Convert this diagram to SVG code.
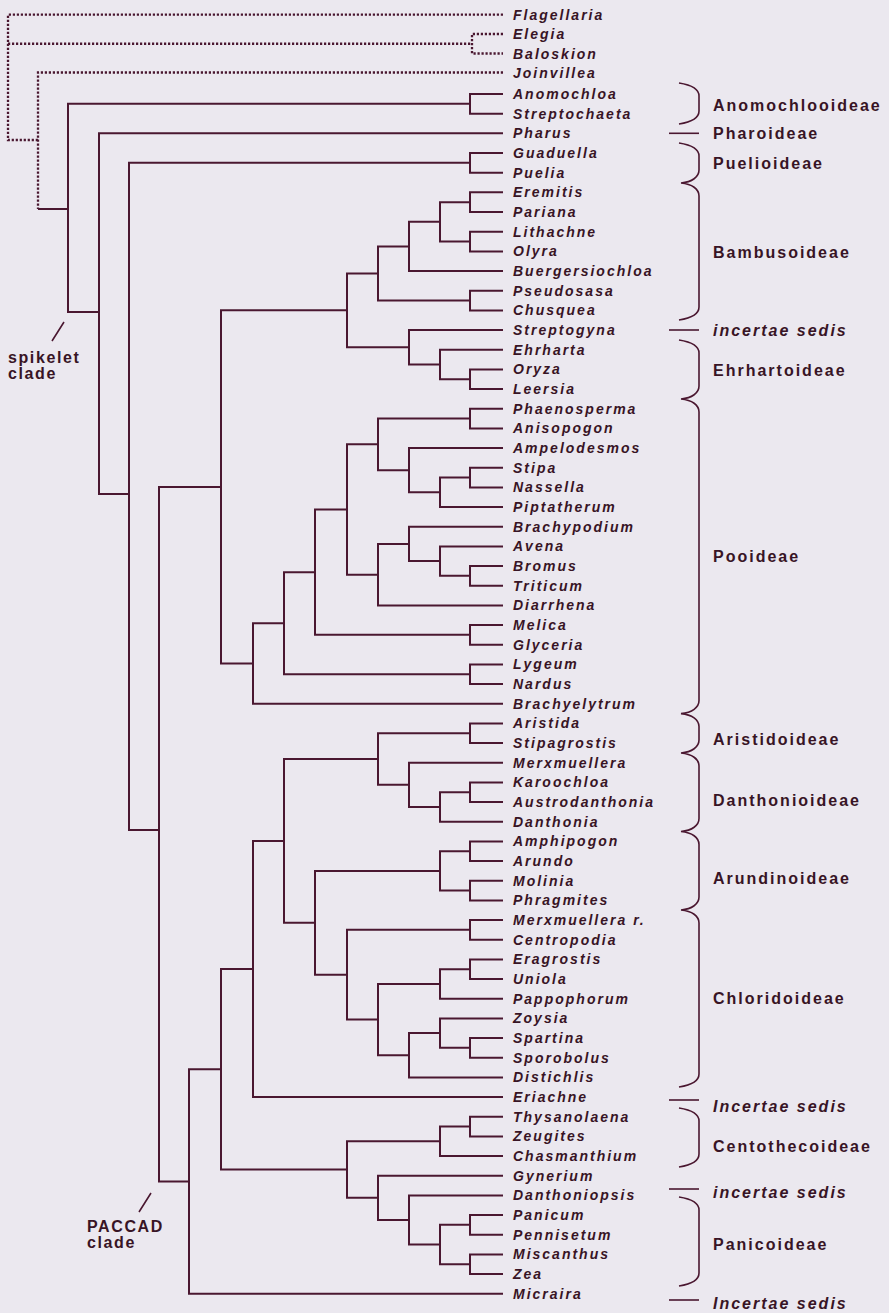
<svg xmlns="http://www.w3.org/2000/svg" width="889" height="1313" viewBox="0 0 889 1313">
<style>
.bg{fill:#ebe8ef}
.br{fill:none;stroke:#4a1730;stroke-width:2}
.dot{fill:none;stroke:#4a1730;stroke-width:2.3;stroke-dasharray:2.2 1.8}
.bc{fill:none;stroke:#4a1730;stroke-width:1.6}
.tx{font-family:"Liberation Sans",Arial,sans-serif;font-size:14px;font-weight:bold;font-style:italic;letter-spacing:2px;fill:#381425}
.gp{font-family:"Liberation Sans",Arial,sans-serif;font-size:16px;font-weight:bold;letter-spacing:2px;fill:#381425}
.it{font-style:italic}
.cl{font-family:"Liberation Sans",Arial,sans-serif;font-size:16px;font-weight:bold;letter-spacing:1.6px;fill:#381425}
</style>
<rect class="bg" x="0" y="0" width="889" height="1313"/>
<g id="connectors">
<path class="dot" d="M503,14.7 H8 V140 H38 M8,43.75 H472 M503,34 H472 V53.5 H503 M503,72.5 H38 V209"/>
<path class="br" d="M38,209 H68
M470,103.85 H68 V312 H99
M503,133.3 H99 V494 H129
M470,162.85 H129 V830 H159
M221,486.9 H159 V1181.5 H189
M221,1069.25 H189 V1293.7 H503
M347,310.35 H221 V663.45 H253
M253,968.95 H221 V1169.55 H347
M284,623.2 H253 V703.7 H503
M284,840.9 H253 V1097 H503
M315,572.2 H284 V674.2 H470
M378,759 H284 V922.8 H315
M347,509.5 H315 V634.85 H470
M440,870.9 H315 V974.7 H347
M378,273.5 H347 V347.2 H409
M378,444.35 H347 V574.65 H378
M470,929.85 H347 V1019.6 H378
M440,1141.3 H347 V1197.8 H378
M409,246.4 H378 V300.55 H470
M470,418.55 H378 V470.15 H409
M409,543.9 H378 V605.4 H503
M470,733.2 H378 V784.8 H409
M440,983.95 H378 V1055.25 H409
M503,1175.7 H378 V1219.95 H409
M440,221.85 H409 V271 H503
M503,330 H409 V364.45 H440
M503,448 H409 V492.3 H440
M503,526.7 H409 V561.1 H440
M503,762.7 H409 V806.95 H440
M440,1033.1 H409 V1077.4 H503
M503,1195.4 H409 V1244.5 H440
M470,202.15 H440 V241.55 H470
M503,349.7 H440 V379.2 H470
M470,477.55 H440 V507 H503
M503,546.4 H440 V575.85 H470
M470,792.2 H440 V821.7 H503
M470,851.2 H440 V890.55 H470
M470,969.2 H440 V998.7 H503
M503,1018.4 H440 V1047.85 H470
M470,1126.55 H440 V1156 H503
M470,1224.85 H440 V1264.2 H470
M503,94 H470 V113.7 H503
M503,153 H470 V172.7 H503
M503,192.3 H470 V212 H503
M503,231.7 H470 V251.4 H503
M503,290.7 H470 V310.4 H503
M503,369.4 H470 V389 H503
M503,408.7 H470 V428.4 H503
M503,467.7 H470 V487.4 H503
M503,566 H470 V585.7 H503
M503,625 H470 V644.7 H503
M503,664.4 H470 V684 H503
M503,723.4 H470 V743 H503
M503,782.4 H470 V802 H503
M503,841.4 H470 V861 H503
M503,880.7 H470 V900.4 H503
M503,920 H470 V939.7 H503
M503,959.4 H470 V979 H503
M503,1038 H470 V1057.7 H503
M503,1116.7 H470 V1136.4 H503
M503,1215 H470 V1234.7 H503
M503,1254.4 H470 V1274 H503"/>
<path class="bc" d="M52,341 L64,322 M139,1212 L151,1193"/>
</g>
<g id="braces">
<path class="bc" d="M679,83 C692,85 699,89 699,96 L699,111 C699,118 692,122 679,124"/>
<path class="bc" d="M669,133.3 H699"/>
<path class="bc" d="M679,143 C692,145 699,149 699,156 L699,170 C699,177 692,182 681,183 C692,184 699,189 699,196 L699,307 C699,314 692,318 679,320"/>
<path class="bc" d="M669,330 H699"/>
<path class="bc" d="M679,340 C692,342 699,346 699,353 L699,386 C699,393 692,398 681,399 C692,400 699,405 699,412 L699,700.6 C699,707.6 692,712.6 681,713.6 C692,714.6 699,719.6 699,726.6 L699,740 C699,747 692,752 681,753 C692,754 699,759 699,766 L699,818.5 C699,825.5 692,830.5 681,831.5 C692,832.5 699,837.5 699,844.5 L699,897 C699,904 692,909 681,910 C692,911 699,916 699,923 L699,1074 C699,1081 692,1085 679,1087"/>
<path class="bc" d="M669,1100 H699"/>
<path class="bc" d="M679,1108 C692,1110 699,1114 699,1121 L699,1154 C699,1161 692,1165 679,1167"/>
<path class="bc" d="M669,1189 H699"/>
<path class="bc" d="M679,1197 C692,1199 699,1203 699,1210 L699,1273 C699,1280 692,1284 679,1286"/>
<path class="bc" d="M669,1300 H699"/>
</g>
<g id="taxa" class="tx">
<g id="n-flagellaria"><text x="513" y="19.7">Flagellaria</text></g>
<g id="n-elegia"><text x="513" y="39">Elegia</text></g>
<g id="n-baloskion"><text x="513" y="58.5">Baloskion</text></g>
<g id="n-joinvillea"><text x="513" y="77.5">Joinvillea</text></g>
<g id="n-anomochloa"><text x="513" y="99">Anomochloa</text></g>
<g id="n-streptochaeta"><text x="513" y="118.7">Streptochaeta</text></g>
<g id="n-pharus"><text x="513" y="138.3">Pharus</text></g>
<g id="n-guaduella"><text x="513" y="158">Guaduella</text></g>
<g id="n-puelia"><text x="513" y="177.7">Puelia</text></g>
<g id="n-eremitis"><text x="513" y="197.3">Eremitis</text></g>
<g id="n-pariana"><text x="513" y="217">Pariana</text></g>
<g id="n-lithachne"><text x="513" y="236.7">Lithachne</text></g>
<g id="n-olyra"><text x="513" y="256.4">Olyra</text></g>
<g id="n-buergersiochloa"><text x="513" y="276">Buergersiochloa</text></g>
<g id="n-pseudosasa"><text x="513" y="295.7">Pseudosasa</text></g>
<g id="n-chusquea"><text x="513" y="315.4">Chusquea</text></g>
<g id="n-streptogyna"><text x="513" y="335">Streptogyna</text></g>
<g id="n-ehrharta"><text x="513" y="354.7">Ehrharta</text></g>
<g id="n-oryza"><text x="513" y="374.4">Oryza</text></g>
<g id="n-leersia"><text x="513" y="394">Leersia</text></g>
<g id="n-phaenosperma"><text x="513" y="413.7">Phaenosperma</text></g>
<g id="n-anisopogon"><text x="513" y="433.4">Anisopogon</text></g>
<g id="n-ampelodesmos"><text x="513" y="453">Ampelodesmos</text></g>
<g id="n-stipa"><text x="513" y="472.7">Stipa</text></g>
<g id="n-nassella"><text x="513" y="492.4">Nassella</text></g>
<g id="n-piptatherum"><text x="513" y="512">Piptatherum</text></g>
<g id="n-brachypodium"><text x="513" y="531.7">Brachypodium</text></g>
<g id="n-avena"><text x="513" y="551.4">Avena</text></g>
<g id="n-bromus"><text x="513" y="571">Bromus</text></g>
<g id="n-triticum"><text x="513" y="590.7">Triticum</text></g>
<g id="n-diarrhena"><text x="513" y="610.4">Diarrhena</text></g>
<g id="n-melica"><text x="513" y="630">Melica</text></g>
<g id="n-glyceria"><text x="513" y="649.7">Glyceria</text></g>
<g id="n-lygeum"><text x="513" y="669.4">Lygeum</text></g>
<g id="n-nardus"><text x="513" y="689">Nardus</text></g>
<g id="n-brachyelytrum"><text x="513" y="708.7">Brachyelytrum</text></g>
<g id="n-aristida"><text x="513" y="728.4">Aristida</text></g>
<g id="n-stipagrostis"><text x="513" y="748">Stipagrostis</text></g>
<g id="n-merxmuellera"><text x="513" y="767.7">Merxmuellera</text></g>
<g id="n-karoochloa"><text x="513" y="787.4">Karoochloa</text></g>
<g id="n-austrodanthonia"><text x="513" y="807">Austrodanthonia</text></g>
<g id="n-danthonia"><text x="513" y="826.7">Danthonia</text></g>
<g id="n-amphipogon"><text x="513" y="846.4">Amphipogon</text></g>
<g id="n-arundo"><text x="513" y="866">Arundo</text></g>
<g id="n-molinia"><text x="513" y="885.7">Molinia</text></g>
<g id="n-phragmites"><text x="513" y="905.4">Phragmites</text></g>
<g id="n-merxmuellera-r"><text x="513" y="925">Merxmuellera r.</text></g>
<g id="n-centropodia"><text x="513" y="944.7">Centropodia</text></g>
<g id="n-eragrostis"><text x="513" y="964.4">Eragrostis</text></g>
<g id="n-uniola"><text x="513" y="984">Uniola</text></g>
<g id="n-pappophorum"><text x="513" y="1003.7">Pappophorum</text></g>
<g id="n-zoysia"><text x="513" y="1023.4">Zoysia</text></g>
<g id="n-spartina"><text x="513" y="1043">Spartina</text></g>
<g id="n-sporobolus"><text x="513" y="1062.7">Sporobolus</text></g>
<g id="n-distichlis"><text x="513" y="1082.4">Distichlis</text></g>
<g id="n-eriachne"><text x="513" y="1102">Eriachne</text></g>
<g id="n-thysanolaena"><text x="513" y="1121.7">Thysanolaena</text></g>
<g id="n-zeugites"><text x="513" y="1141.4">Zeugites</text></g>
<g id="n-chasmanthium"><text x="513" y="1161">Chasmanthium</text></g>
<g id="n-gynerium"><text x="513" y="1180.7">Gynerium</text></g>
<g id="n-danthoniopsis"><text x="513" y="1200.4">Danthoniopsis</text></g>
<g id="n-panicum"><text x="513" y="1220">Panicum</text></g>
<g id="n-pennisetum"><text x="513" y="1239.7">Pennisetum</text></g>
<g id="n-miscanthus"><text x="513" y="1259.4">Miscanthus</text></g>
<g id="n-zea"><text x="513" y="1279">Zea</text></g>
<g id="n-micraira"><text x="513" y="1298.7">Micraira</text></g>
</g>
<g id="groups" class="gp">
<g id="g-anomochlooideae"><text x="713" y="111">Anomochlooideae</text></g>
<g id="g-pharoideae"><text x="713" y="139">Pharoideae</text></g>
<g id="g-puelioideae"><text x="713" y="169">Puelioideae</text></g>
<g id="g-bambusoideae"><text x="713" y="258">Bambusoideae</text></g>
<g id="g-is1"><text class="it" x="713" y="336">incertae sedis</text></g>
<g id="g-ehrhartoideae"><text x="713" y="376">Ehrhartoideae</text></g>
<g id="g-pooideae"><text x="713" y="562">Pooideae</text></g>
<g id="g-aristidoideae"><text x="713" y="745">Aristidoideae</text></g>
<g id="g-danthonioideae"><text x="713" y="806">Danthonioideae</text></g>
<g id="g-arundinoideae"><text x="713" y="884">Arundinoideae</text></g>
<g id="g-chloridoideae"><text x="713" y="1004">Chloridoideae</text></g>
<g id="g-is2"><text class="it" x="713" y="1112">Incertae sedis</text></g>
<g id="g-centothecoideae"><text x="713" y="1152">Centothecoideae</text></g>
<g id="g-is3"><text class="it" x="713" y="1198">incertae sedis</text></g>
<g id="g-panicoideae"><text x="713" y="1250">Panicoideae</text></g>
<g id="g-is4"><text class="it" x="713" y="1309">Incertae sedis</text></g>
</g>
<g id="clades" class="cl">
<g id="c-spikelet"><text x="8" y="363">spikelet</text><text x="8" y="379">clade</text></g>
<g id="c-paccad"><text x="87" y="1232">PACCAD</text><text x="87" y="1248">clade</text></g>
</g>
</svg>
